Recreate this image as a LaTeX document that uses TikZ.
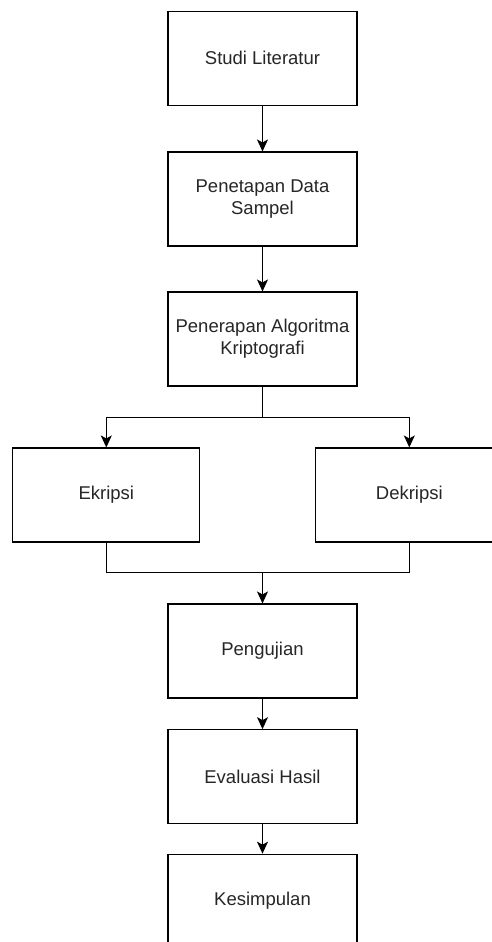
\documentclass[tikz,border=0pt]{standalone}
\usepackage{fontspec}
\setmainfont{Liberation Sans}
\usetikzlibrary{arrows.meta}
\begin{document}
\begin{tikzpicture}[x=1pt,y=-1pt,
  box/.style={draw=black,line width=1.1pt,fill=white,minimum width=189pt,minimum height=94pt,
    inner sep=0pt,align=center,font=\fontsize{18.5pt}{22pt}\selectfont,text=black!85},
  sidebox/.style={box,minimum width=187pt},
  conn/.style={draw=black,line width=1.1pt},
  arr/.style={conn,-{Stealth[length=12pt,width=11pt,inset=3pt]}}]
\useasboundingbox (0,0) rectangle (492,942);
\clip (0,0) rectangle (492,942);
\fill[white] (0,0) rectangle (492,942);
\node[box] (b1) at (262.5,58.3) {Studi Literatur};
\node[box] (b2) at (262.5,199) {Penetapan Data\\Sampel};
\node[box] (b3) at (262.5,339) {Penerapan Algoritma\\Kriptografi};
\node[sidebox] (ek) at (106.3,495) {Ekripsi};
\node[sidebox] (dk) at (409.3,495) {Dekripsi};
\node[box] (pg) at (262.5,651) {Pengujian};
\node[box] (ev) at (262.5,776.7) {Evaluasi Hasil};
\node[box] (ks) at (262.5,901.2) {Kesimpulan};
\coordinate (split) at (262.5,417.7);
\coordinate (merge) at (262.5,572.7);
\draw[arr] (b1) -- (b2);
\draw[arr] (b2) -- (b3);
\draw[conn] (b3.south) -- (split);
\draw[arr] (split) -| (ek.north);
\draw[arr] (split) -| (dk.north);
\draw[conn] (ek.south) |- (merge) -| (dk.south);
\draw[arr] (merge) -- (pg.north);
\draw[arr] (pg) -- (ev);
\draw[arr] (ev) -- (ks);
\end{tikzpicture}
\end{document}
